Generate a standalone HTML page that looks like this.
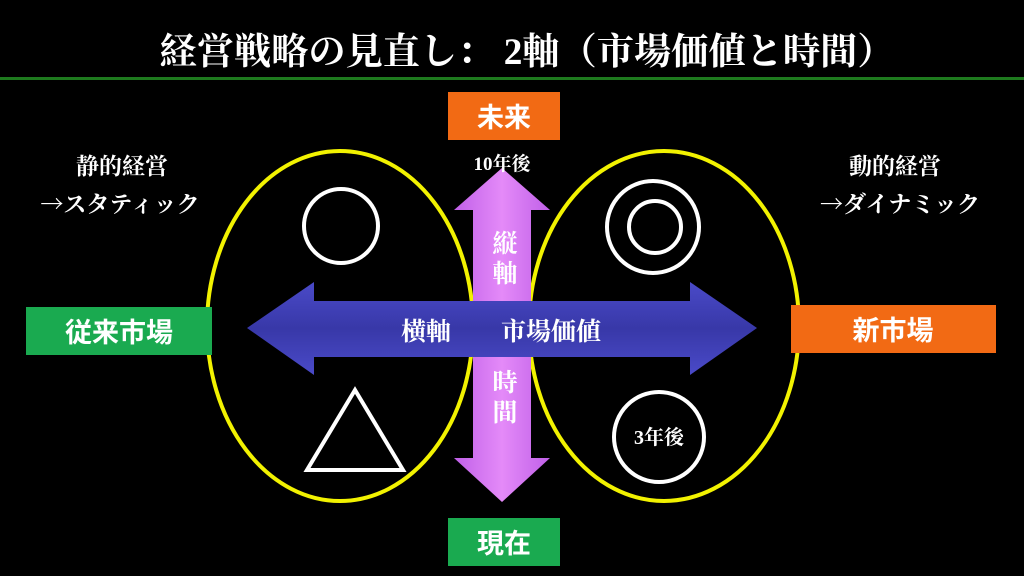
<!DOCTYPE html>
<html><head><meta charset="utf-8"><style>
html,body{margin:0;padding:0;background:#000;}
svg{display:block}
.s{font-family:"Liberation Serif","Noto Serif CJK SC",serif;font-weight:bold;fill:#fff}
.g{font-family:"Liberation Sans","Noto Sans CJK JP",sans-serif;font-weight:bold;fill:#fff}
.a{font-family:"Noto Serif CJK SC",serif}
</style></head><body>
<svg width="1024" height="576" viewBox="0 0 1024 576" xmlns="http://www.w3.org/2000/svg">
<defs>
<linearGradient id="pk" x1="0" x2="1"><stop offset="0" stop-color="#c060e8"/><stop offset="0.5" stop-color="#e48af8"/><stop offset="1" stop-color="#c060e8"/></linearGradient>
<linearGradient id="bl" x1="0" y1="0" x2="0" y2="1"><stop offset="0" stop-color="#4a4ac8"/><stop offset="0.5" stop-color="#3838a8"/><stop offset="1" stop-color="#4a4ac8"/></linearGradient>
</defs>
<rect width="1024" height="576" fill="#000"/>
<text x="527" y="64" text-anchor="middle" class="s" font-size="37" textLength="735" lengthAdjust="spacingAndGlyphs">経営戦略の見直し：  2軸（市場価値と時間）</text>
<rect x="0" y="77" width="1024" height="3" fill="#1e7a1e"/>

<ellipse cx="340" cy="326" rx="133" ry="175" fill="none" stroke="#f2f200" stroke-width="4"/>
<ellipse cx="664" cy="326" rx="135" ry="175" fill="none" stroke="#f2f200" stroke-width="4"/>

<polygon points="502,168 550,210 531,210 531,458 550,458 502,502 454,458 473,458 473,210 454,210" fill="url(#pk)"/>
<polygon points="247,328 314,282 314,301 690,301 690,282 757,328 690,375 690,357 314,357 314,375" fill="url(#bl)"/>

<text x="502" y="170" text-anchor="middle" class="s" font-size="19">10年後</text>
<text x="505" y="252" text-anchor="middle" class="s" font-size="25">縦</text>
<text x="505" y="282" text-anchor="middle" class="s" font-size="25">軸</text>
<text x="505" y="391" text-anchor="middle" class="s" font-size="25">時</text>
<text x="505" y="421" text-anchor="middle" class="s" font-size="25">間</text>
<text x="426" y="340" text-anchor="middle" class="s" font-size="25">横軸</text>
<text x="551" y="340" text-anchor="middle" class="s" font-size="25">市場価値</text>

<circle cx="341" cy="226" r="37" fill="none" stroke="#fff" stroke-width="4"/>
<polygon points="355,390 307,470 403,470" fill="none" stroke="#fff" stroke-width="4"/>
<circle cx="653" cy="227" r="46" fill="none" stroke="#fff" stroke-width="4"/>
<circle cx="655" cy="227" r="26" fill="none" stroke="#fff" stroke-width="4"/>
<circle cx="659" cy="437" r="45" fill="none" stroke="#fff" stroke-width="4"/>
<text x="659" y="444" text-anchor="middle" class="s" font-size="20">3年後</text>

<rect x="448" y="92" width="112" height="48" fill="#f26a14"/>
<text x="504" y="127" text-anchor="middle" class="g" font-size="27">未来</text>
<rect x="448" y="518" width="112" height="48" fill="#1aaa50"/>
<text x="504" y="553" text-anchor="middle" class="g" font-size="27">現在</text>
<rect x="26" y="307" width="186" height="48" fill="#1aaa50"/>
<text x="119" y="342" text-anchor="middle" class="g" font-size="27">従来市場</text>
<rect x="791" y="305" width="205" height="48" fill="#f26a14"/>
<text x="893" y="340" text-anchor="middle" class="g" font-size="27">新市場</text>

<text x="122" y="174" text-anchor="middle" class="s" font-size="23">静的経営</text>
<text x="120" y="212" text-anchor="middle" class="s" font-size="23"><tspan class="a">→</tspan>スタティック</text>
<text x="895" y="174" text-anchor="middle" class="s" font-size="23">動的経営</text>
<text x="900" y="212" text-anchor="middle" class="s" font-size="23"><tspan class="a">→</tspan>ダイナミック</text>
</svg>
</body></html>
